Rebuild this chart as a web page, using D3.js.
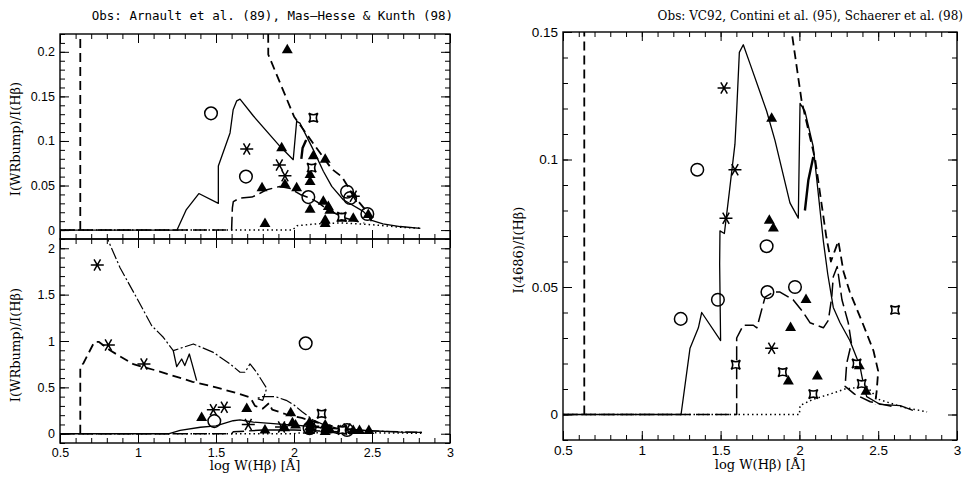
<!DOCTYPE html>
<html>
<head>
<meta charset="utf-8">
<script src="https://cdn.jsdelivr.net/npm/d3@7"></script>
<style>
  body { margin: 0; background: #fff; }
  svg { display: block; }
</style>
</head>
<body>
<svg id="chart" width="966" height="478"></svg>
<script>
// ---- top-left panel: WR bump, Arnault et al. / Mas-Hesse & Kunth ----
var topSolid = [[0.5,0],[1.25,0],[1.31,0.023],[1.39,0.041],[1.515,0.030],[1.515,0.072],[1.59,0.109],[1.61,0.135],[1.633,0.145],[1.654,0.147],[1.74,0.128],[1.91,0.094],[1.995,0.079],[2.017,0.122],[2.038,0.120],[2.124,0.090],[2.188,0.066],[2.242,0.049],[2.316,0.034],[2.444,0.021],[2.498,0.011],[2.57,0.007],[2.68,0.004],[2.81,0.002]];
var topSolidB = [[2.047,0.080],[2.055,0.092],[2.078,0.101]];
var topShortDash = [[0.63,0],[0.63,1.0],[1.83,0.5],[1.835,0.197],[2.0,0.1275],[2.12,0.098],[2.242,0.0685],[2.306,0.060],[2.359,0.045],[2.423,0.030],[2.476,0.019],[2.5,0.008]];
var topLongDash = [[0.5,0],[1.6,0],[1.605,0.025],[1.611,0.032],[1.654,0.036],[1.73,0.037],[1.77,0.040],[1.82,0.045],[1.91,0.049],[1.97,0.047],[2.04,0.040],[2.1,0.036],[2.145,0.032],[2.2,0.025],[2.25,0.020],[2.32,0.014],[2.4,0.010],[2.45,0.008]];
var topDotted = [[0.5,0],[1.99,0],[2.02,0.005],[2.15,0.007],[2.3,0.008],[2.4,0.007],[2.5,0.006],[2.7,0.003],[2.82,0.002]];
var topCircles = [[1.468,0.131],[1.692,0.060],[2.092,0.037],[2.34,0.043],[2.36,0.036],[2.47,0.018]];
var topAsterisks = [[1.697,0.091],[1.906,0.073],[1.942,0.061],[2.38,0.038]];
var topStars = [[2.124,0.126],[2.113,0.070],[2.306,0.015]];
var topTriangles = [[1.957,0.202],[1.921,0.092],[1.795,0.047],[1.942,0.051],[2.017,0.047],[2.124,0.083],[2.2,0.079],[2.103,0.062],[2.103,0.054],[2.103,0.023],[2.188,0.032],[2.22,0.026],[2.23,0.022],[2.2,0.011],[2.2,0.007],[2.306,0.013],[2.38,0.013],[2.476,0.017],[1.814,0.007]];
var topYTicks = [0, 0.05, 0.1, 0.15, 0.2];

// ---- bottom-left panel ----
var botDashDot = [[0.80,2.2],[0.81,2.08],[0.885,1.79],[0.99,1.47],[1.088,1.165],[1.162,1.04],[1.226,0.896],[1.355,0.968],[1.483,0.877],[1.59,0.753],[1.654,0.663],[1.686,0.663],[1.718,0.753],[1.76,0.663],[1.825,0.49],[1.80,0.36],[1.76,0.38],[1.80,0.40],[1.88,0.40],[1.95,0.36],[2.0,0.31],[2.05,0.24],[2.12,0.15],[2.2,0.09],[2.3,0.05],[2.5,0.03],[2.82,0.015]];
var botZig = [[1.226,0.896],[1.248,0.724],[1.28,0.806],[1.30,0.735],[1.329,0.86],[1.344,0.77],[1.376,0.573]];
var botShortDash = [[0.63,0],[0.63,0.72],[0.65,0.76],[0.72,0.99],[0.75,0.99],[0.82,0.90],[0.97,0.75],[1.12,0.68],[1.35,0.56],[1.5,0.50],[1.65,0.43],[1.72,0.39],[1.75,0.30],[1.80,0.27],[1.84,0.33],[1.86,0.26],[1.95,0.21],[2.05,0.17],[2.15,0.12],[2.25,0.08],[2.35,0.05],[2.45,0.03]];
var botSolid = [[0.5,0],[1.2,0],[1.27,0.035],[1.4,0.07],[1.5,0.085],[1.61,0.14],[1.654,0.15],[1.74,0.125],[1.93,0.10],[2.03,0.09],[2.14,0.07],[2.3,0.05],[2.46,0.035],[2.68,0.017],[2.82,0.015]];
var botLongDash = [[0.5,0],[1.6,0],[1.61,0.02],[1.8,0.04],[2.0,0.04],[2.3,0.02],[2.45,0.01]];
var botDotted = [[0.5,0],[2.0,0],[2.02,0.008],[2.3,0.012],[2.5,0.01],[2.82,0.005]];
var botAsterisks = [[0.739,1.82],[0.81,0.957],[1.038,0.753],[1.483,0.258],[1.553,0.286],[1.707,0.10],[1.92,0.072],[2.12,0.08],[2.34,0.05]];
var botCircles = [[2.075,0.975],[1.489,0.136],[2.1,0.06],[2.34,0.04]];
var botTriangles = [[1.408,0.172],[1.697,0.269],[1.979,0.222],[1.814,0.036],[1.99,0.114],[2.01,0.09],[1.94,0.06],[2.1,0.12],[2.1,0.07],[2.1,0.03],[2.2,0.09],[2.2,0.05],[2.23,0.04],[2.2,0.02],[2.3,0.03],[2.38,0.03],[2.42,0.03],[2.48,0.03]];
var botStars = [[2.177,0.215],[2.31,0.04]];
var botYTicks = [0, 0.5, 1, 1.5, 2];

// ---- right panel: HeII 4686, VC92 / Contini / Schaerer ----
var rSolid = [[0.5,0],[1.249,0],[1.306,0.026],[1.359,0.034],[1.38,0.040],[1.50,0.029],[1.494,0.059],[1.496,0.072],[1.524,0.071],[1.555,0.087],[1.591,0.106],[1.602,0.119],[1.619,0.142],[1.644,0.145],[1.687,0.1375],[1.792,0.119],[1.845,0.1075],[1.94,0.083],[1.993,0.077],[2.004,0.122],[2.035,0.119],[2.088,0.105],[2.152,0.068],[2.18,0.055],[2.215,0.042],[2.258,0.036],[2.32,0.029],[2.384,0.019],[2.406,0.012],[2.427,0.007],[2.51,0.004],[2.64,0.0035],[2.72,0.0016]];
var rSolidB = [[2.035,0.080],[2.057,0.092],[2.088,0.101]];
var rShortDash = [[0.635,0],[0.635,1],[1.94,0.17],[1.951,0.15],[2.014,0.123],[2.1,0.1],[2.17,0.07],[2.2,0.06],[2.247,0.068],[2.28,0.056],[2.32,0.048],[2.4,0.036],[2.47,0.025],[2.5,0.017],[2.49,0.009],[2.48,0.004]];
var rLongDash = [[0.5,0],[1.602,0],[1.602,0.030],[1.644,0.035],[1.708,0.035],[1.73,0.034],[1.782,0.046],[1.835,0.048],[1.877,0.048],[1.96,0.045],[2.025,0.040],[2.067,0.036],[2.152,0.034],[2.184,0.037],[2.205,0.046],[2.215,0.054],[2.24,0.058],[2.27,0.045],[2.31,0.036],[2.33,0.028],[2.30,0.02],[2.29,0.011],[2.35,0.008],[2.45,0.005],[2.6,0.003]];
var rDotted = [[0.5,0],[2.0,0],[2.004,0.0035],[2.088,0.006],[2.194,0.008],[2.289,0.010],[2.427,0.011],[2.5,0.006],[2.65,0.003],[2.81,0.001]];
var rAsterisks = [[1.522,0.128],[1.591,0.096],[1.534,0.077],[1.824,0.026]];
var rCircles = [[1.352,0.096],[1.792,0.066],[1.247,0.0375],[1.483,0.045],[1.797,0.048],[1.972,0.050]];
var rTriangles = [[1.824,0.116],[1.809,0.076],[1.835,0.073],[2.042,0.045],[1.944,0.034],[1.93,0.013],[2.114,0.015],[2.38,0.019],[2.423,0.009]];
var rStars = [[1.596,0.0195],[1.894,0.0166],[2.088,0.008],[2.363,0.020],[2.395,0.012],[2.607,0.041]];
var rYTicks = [0, 0.05, 0.1, 0.15];

var xTicks = [0.5, 1, 1.5, 2, 2.5, 3];

var styles = {
    solid:   {w: 1.3, dash: null},
    thick:   {w: 2.4, dash: null},
    short:   {w: 1.8, dash: "9,5"},
    long:    {w: 1.5, dash: "14,5"},
    dotted:  {w: 1.5, dash: "1.5,3"},
    dashdot: {w: 1.2, dash: "12,2.5,2,2.5"}
};

var svg = d3.select("#chart");
var defs = svg.append("defs");

function starPath(s) {
    var k = s * 0.35;
    return "M" + (-s) + "," + (-s) + "Q0," + (-k) + " " + s + "," + (-s) +
           "Q" + k + ",0 " + s + "," + s +
           "Q0," + k + " " + (-s) + "," + s +
           "Q" + (-k) + ",0 " + (-s) + "," + (-s) + "Z";
}

// six-armed asterisk with a horizontal bar
function asteriskPath(r) {
    var p = "";
    [0, 60, 120].forEach(function(a) {
        var c = Math.cos(a * Math.PI / 180) * r, s = Math.sin(a * Math.PI / 180) * r;
        p += "M" + (-c) + "," + (-s) + "L" + c + "," + s;
    });
    return p;
}

function drawPanel(p) {
    var x = d3.scaleLinear().domain([0.5, 3]).range([p.left, p.right]);
    var y = d3.scaleLinear().domain(p.yDomain).range([p.bottom, p.top]);
    var g = svg.append("g");

    defs.append("clipPath").attr("id", "clip-" + p.id)
        .append("rect")
        .attr("x", p.left).attr("y", p.top)
        .attr("width", p.right - p.left).attr("height", p.bottom - p.top);

    var plot = g.append("g").attr("clip-path", "url(#clip-" + p.id + ")");
    var line = d3.line().x(d => x(d[0])).y(d => y(d[1]));

    p.lines.forEach(function(s) {
        var st = styles[s.style];
        plot.append("path")
            .datum(s.data)
            .attr("d", line)
            .attr("fill", "none")
            .attr("stroke", "#000")
            .attr("stroke-width", st.w)
            .attr("stroke-dasharray", st.dash)
            .attr("stroke-linejoin", "round");
    });

    // markers
    g.selectAll(".tri").data(p.triangles).enter().append("path")
        .attr("transform", d => "translate(" + x(d[0]) + "," + y(d[1]) + ")")
        .attr("d", d3.symbol(d3.symbolTriangle, 52))
        .attr("fill", "#000");

    g.selectAll(".circ").data(p.circles).enter().append("circle")
        .attr("cx", d => x(d[0])).attr("cy", d => y(d[1]))
        .attr("r", 6.3)
        .attr("fill", "none").attr("stroke", "#000").attr("stroke-width", 1.5);

    g.selectAll(".ast").data(p.asterisks).enter().append("path")
        .attr("transform", d => "translate(" + x(d[0]) + "," + y(d[1]) + ")")
        .attr("d", asteriskPath(6.5))
        .attr("fill", "none").attr("stroke", "#000").attr("stroke-width", 1.5);

    g.selectAll(".star").data(p.stars).enter().append("path")
        .attr("transform", d => "translate(" + x(d[0]) + "," + y(d[1]) + ")")
        .attr("d", starPath(4.5))
        .attr("fill", "#fff").attr("stroke", "#000").attr("stroke-width", 1.6);

    // axes: ticks pointing inward on all four sides
    var xMinor = d3.range(0.5, 3.001, 0.1);
    var yMinor = d3.range(p.yDomain[0], p.yDomain[1] + 1e-9, p.yMinor);
    var fmt = d3.format("~g");

    function axis(gen, scale, vals, size, tr, labels) {
        var a = gen(scale).tickValues(vals).tickSize(-size).tickSizeOuter(0)
            .tickPadding(labels ? p.pad : 0)
            .tickFormat(labels ? fmt : "");
        g.append("g").attr("transform", tr).call(a)
            .attr("font-family", "'Liberation Sans', Arial, sans-serif")
            .attr("font-size", p.fontSize)
            .call(s => s.select(".domain").remove())
            .call(s => s.selectAll("line").attr("stroke", "#000").attr("stroke-width", 1))
            .call(s => s.selectAll("text").attr("fill", "#000"));
    }
    var bt = "translate(0," + p.bottom + ")", tt = "translate(0," + p.top + ")";
    var lt = "translate(" + p.left + ",0)", rt = "translate(" + p.right + ",0)";
    axis(d3.axisBottom, x, xMinor, 5, bt, false);
    axis(d3.axisBottom, x, xTicks, 9, bt, p.xLabels);
    axis(d3.axisTop, x, xMinor, 5, tt, false);
    axis(d3.axisTop, x, xTicks, 9, tt, false);
    axis(d3.axisLeft, y, yMinor, 5, lt, false);
    axis(d3.axisLeft, y, p.yTicks, 9, lt, true);
    axis(d3.axisRight, y, yMinor, 5, rt, false);
    axis(d3.axisRight, y, p.yTicks, 9, rt, false);

    g.append("rect")
        .attr("x", p.left).attr("y", p.top)
        .attr("width", p.right - p.left).attr("height", p.bottom - p.top)
        .attr("fill", "none").attr("stroke", "#000").attr("stroke-width", 1.4);
}

drawPanel({
    id: "top", left: 60, right: 450, top: 34, bottom: 239,
    yDomain: [-0.01, 0.22], yTicks: topYTicks, yMinor: 0.01,
    xLabels: false, fontSize: 12.5, pad: 5,
    lines: [
        {data: topDotted, style: "dotted"},
        {data: topLongDash, style: "long"},
        {data: topShortDash, style: "short"},
        {data: topSolid, style: "solid"},
        {data: topSolidB, style: "thick"}
    ],
    triangles: topTriangles, circles: topCircles, asterisks: topAsterisks, stars: topStars
});

drawPanel({
    id: "bot", left: 60, right: 450, top: 239, bottom: 443,
    yDomain: [-0.1, 2.1], yTicks: botYTicks, yMinor: 0.1,
    xLabels: true, fontSize: 12.5, pad: 5,
    lines: [
        {data: botDotted, style: "dotted"},
        {data: botLongDash, style: "long"},
        {data: botShortDash, style: "short"},
        {data: botSolid, style: "solid"},
        {data: botDashDot, style: "dashdot"},
        {data: botZig, style: "solid"}
    ],
    triangles: botTriangles, circles: botCircles, asterisks: botAsterisks, stars: botStars
});

drawPanel({
    id: "right", left: 563, right: 957, top: 32, bottom: 440,
    yDomain: [-0.01, 0.15], yTicks: rYTicks, yMinor: 0.01,
    xLabels: true, fontSize: 13.5, pad: 5,
    lines: [
        {data: rDotted, style: "dotted"},
        {data: rLongDash, style: "long"},
        {data: rShortDash, style: "short"},
        {data: rSolid, style: "solid"},
        {data: rSolidB, style: "thick"}
    ],
    triangles: rTriangles, circles: rCircles, asterisks: rAsterisks, stars: rStars
});

// titles
svg.append("text")
    .attr("x", 453).attr("y", 20).attr("text-anchor", "end")
    .style("font", "12.5px 'DejaVu Sans Mono', monospace")
    .text("Obs: Arnault et al. (89), Mas\u2013Hesse & Kunth (98)");
svg.append("text")
    .attr("x", 963).attr("y", 20).attr("text-anchor", "end")
    .style("font", "12px 'DejaVu Serif', serif")
    .text("Obs: VC92, Contini et al. (95), Schaerer et al. (98)");

// axis titles
var axFont = "13px 'DejaVu Serif', serif";
[[15, 139, "I(WRbump)/I(H\u03B2)"], [15, 345, "I(WRbump)/I(H\u03B2)"], [518, 250, "I(4686)/I(H\u03B2)"]]
    .forEach(function(t) {
        svg.append("text")
            .attr("transform", "translate(" + t[0] + "," + t[1] + ") rotate(-90)")
            .attr("text-anchor", "middle").attr("dy", "0.35em")
            .style("font", axFont)
            .text(t[2]);
    });
[[255, 470], [760, 469]].forEach(function(t) {
    svg.append("text")
        .attr("x", t[0]).attr("y", t[1]).attr("text-anchor", "middle")
        .style("font", axFont)
        .text("log W(H\u03B2) [\u00C5]");
});
</script>
</body>
</html>
